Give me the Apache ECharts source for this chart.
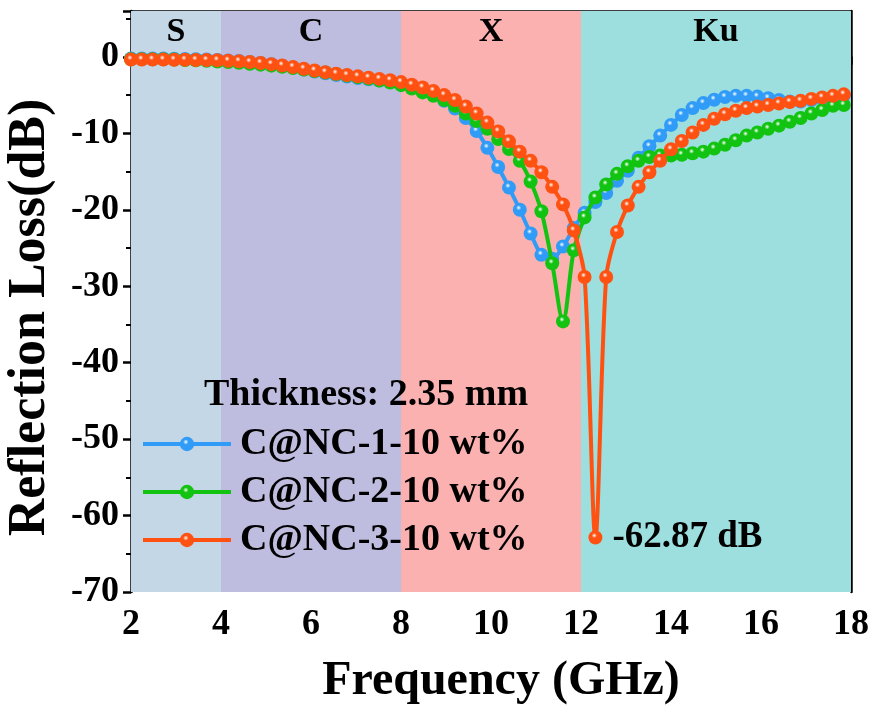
<!DOCTYPE html>
<html>
<head>
<meta charset="utf-8">
<title>Reflection Loss</title>
<script src="https://cdn.jsdelivr.net/npm/echarts@6/dist/echarts.min.js"></script>
<style>
    html, body { margin: 0; padding: 0; background: #fff; }
    #main { width: 876px; height: 710px; }
</style>
</head>
<body>
<div id="main"></div>
<script>
// 频率 (GHz)
var freq = [2.00, 2.24, 2.48, 2.72, 2.96, 3.20, 3.44, 3.68, 3.92, 4.16, 4.40, 4.64, 4.88, 5.12, 5.36, 5.60, 5.84,
    6.08, 6.32, 6.56, 6.80, 7.04, 7.28, 7.52, 7.76, 8.00, 8.24, 8.48, 8.72, 8.96, 9.20, 9.44, 9.68, 9.92, 10.16,
    10.40, 10.64, 10.88, 11.12, 11.36, 11.60, 11.84, 12.08, 12.32, 12.56, 12.80, 13.04, 13.28, 13.52, 13.76, 14.00,
    14.24, 14.48, 14.72, 14.96, 15.20, 15.44, 15.68, 15.92, 16.16, 16.40, 16.64, 16.88, 17.12, 17.36, 17.60, 17.84];

// C@NC-1-10 wt%
var rl1 = [-0.2, -0.2, -0.2, -0.22, -0.24, -0.27, -0.3, -0.34, -0.4, -0.46, -0.54, -0.66, -0.8, -0.96, -1.15, -1.38,
    -1.65, -1.92, -2.15, -2.38, -2.58, -2.76, -2.93, -3.1, -3.28, -3.5, -3.85, -4.3, -4.95, -5.75, -6.75, -8.0, -9.7,
    -11.9, -14.4, -17.1, -20.0, -23.1, -25.9, -26.4, -24.8, -22.4, -20.4, -19.0, -17.8, -16.2, -14.9, -13.2, -11.7,
    -10.3, -8.9, -7.6, -6.7, -6.05, -5.6, -5.25, -5.1, -5.1, -5.2, -5.4, -5.65, -5.85, -5.85, -5.65, -5.45, -5.25, -5.05];
// C@NC-2-10 wt%
var rl2 = [-0.3, -0.3, -0.3, -0.32, -0.35, -0.4, -0.45, -0.52, -0.6, -0.68, -0.78, -0.9, -1.02, -1.15, -1.3, -1.47,
    -1.65, -1.85, -2.05, -2.25, -2.45, -2.65, -2.85, -3.1, -3.35, -3.7, -4.15, -4.65, -5.1, -5.65, -6.4, -7.4, -8.4,
    -9.4, -10.75, -12.05, -13.6, -16.3, -20.2, -27.0, -34.6, -25.3, -21.0, -18.4, -16.7, -15.3, -14.3, -13.6, -13.1,
    -12.9, -12.9, -12.8, -12.6, -12.4, -12.0, -11.5, -10.9, -10.3, -9.9, -9.4, -9.0, -8.5, -8.0, -7.4, -6.95, -6.4, -6.3];
// C@NC-3-10 wt%
var rl3 = [-0.35, -0.35, -0.35, -0.36, -0.37, -0.38, -0.4, -0.42, -0.45, -0.5, -0.57, -0.68, -0.8, -0.95, -1.12, -1.32,
    -1.55, -1.78, -2.0, -2.2, -2.38, -2.55, -2.72, -2.88, -3.05, -3.3, -3.65, -4.0, -4.45, -5.0, -5.65, -6.5, -7.4,
    -8.6, -9.75, -11.05, -12.4, -13.6, -15.1, -17.0, -19.3, -22.7, -28.8, -62.87, -28.8, -22.9, -19.45, -17.0, -15.1,
    -13.6, -12.1, -11.0, -9.9, -8.9, -8.1, -7.5, -7.05, -6.7, -6.5, -6.3, -6.1, -5.9, -5.75, -5.5, -5.3, -5.1, -4.9];

var seriesNames = ['C@NC-1-10 wt%', 'C@NC-2-10 wt%', 'C@NC-3-10 wt%'];
var seriesColors = ['#309cf8', '#12c312', '#ff5212'];

// 波段
var bandNames = ['S', 'C', 'X', 'Ku'];
var bandStart = [2, 4, 8, 12];
var bandEnd = [4, 8, 12, 18];
var bandColors = ['#c4d7e7', '#bfbddf', '#fbb1af', '#9ddfde'];

var thicknessText = 'Thickness: 2.35 mm';

var fontFam = '"Liberation Serif", "Times New Roman", serif';

function ball(color) {
    return new echarts.graphic.RadialGradient(0.42, 0.36, 0.62, [
        {offset: 0, color: '#ffffff'},
        {offset: 0.3, color: color},
        {offset: 1, color: color}
    ]);
}

function makeSeries(idx, values) {
    var d = [];
    var minI = 0;
    for (var i = 0; i < values.length; i++) {
        if (values[i] < values[minI]) minI = i;
    }
    for (var i = 0; i < freq.length; i++) {
        var item = {value: [freq[i], values[i]]};
        if (idx == 2 && i == minI) {
            item.label = {
                show: true,
                position: 'right',
                distance: 10,
                formatter: values[i].toFixed(2) + ' dB',
                fontFamily: fontFam,
                fontWeight: 'bold',
                fontSize: 37,
                color: '#000'
            };
        }
        d.push(item);
    }
    return {
        name: seriesNames[idx],
        type: 'line',
        z: 3 + idx,
        data: d,
        smooth: 0.3,
        symbol: 'circle',
        symbolSize: 14,
        showAllSymbol: true,
        clip: false,
        lineStyle: {color: seriesColors[idx], width: 4},
        itemStyle: {color: ball(seriesColors[idx]), borderWidth: 0},
        emphasis: {disabled: true},
        animation: false
    };
}

var bandData = [];
for (var b = 0; b < bandNames.length; b++) {
    bandData.push([
        {xAxis: bandStart[b], name: bandNames[b], itemStyle: {color: bandColors[b]}},
        {xAxis: bandEnd[b]}
    ]);
}

var myChart = echarts.init(document.getElementById('main'));
var option = {
    animation: false,
    backgroundColor: '#fff',
    title: {
        text: thicknessText,
        left: 199,
        top: 371,
        textStyle: {fontFamily: fontFam, fontWeight: 'bold', fontSize: 38, color: '#000'}
    },
    legend: {
        orient: 'vertical',
        left: 136,
        top: 418,
        itemWidth: 88,
        itemHeight: 18,
        itemGap: 6,
        data: seriesNames,
        lineStyle: {width: 4},
        textStyle: {fontFamily: fontFam, fontWeight: 'bold', fontSize: 38, color: '#000', lineHeight: 42, padding: [0, 0, 0, 4]}
    },
    grid: {left: 131, right: 25, top: 11, bottom: 118, containLabel: false, outerBoundsMode: 'none'},
    xAxis: [{
        type: 'value',
        min: 2,
        max: 18,
        interval: 2,
        name: 'Frequency (GHz)',
        nameLocation: 'middle',
        nameGap: 66,
        nameTextStyle: {fontFamily: fontFam, fontWeight: 'bold', fontSize: 48, color: '#000', padding: [0, 0, 0, 20]},
        axisLine: {show: true, lineStyle: {color: '#000', width: 2.5}},
        axisTick: {show: true, inside: false, length: 8, lineStyle: {width: 2.5, color: '#000'}},
        axisLabel: {margin: 15, fontFamily: fontFam, fontWeight: 'bold', fontSize: 36, color: '#000'},
        splitLine: {show: false}
    }, {
        type: 'value',
        position: 'top',
        min: 2,
        max: 18,
        axisLine: {show: true, onZero: false, lineStyle: {color: '#000', width: 2.5}},
        axisTick: {show: false},
        axisLabel: {show: false},
        splitLine: {show: false}
    }],
    yAxis: [{
        type: 'value',
        min: -70,
        max: 6,
        interval: 10,
        name: 'Reflection Loss(dB)',
        nameLocation: 'middle',
        nameGap: 74,
        nameTextStyle: {fontFamily: fontFam, fontWeight: 'bold', fontSize: 52, color: '#000', padding: [0, 32, 0, 0]},
        axisLine: {show: true, onZero: false, lineStyle: {color: '#000', width: 2.5}},
        axisTick: {show: true, inside: false, length: 8, lineStyle: {width: 2.5, color: '#000'}},
        minorTick: {show: true, splitNumber: 2, length: 5, lineStyle: {width: 2, color: '#000'}},
        axisLabel: {margin: 12, showMaxLabel: false, fontFamily: fontFam, fontWeight: 'bold', fontSize: 36, color: '#000'},
        splitLine: {show: false}
    }, {
        type: 'value',
        position: 'right',
        min: -70,
        max: 6,
        axisLine: {show: true, onZero: false, lineStyle: {color: '#000', width: 2.5}},
        axisTick: {show: false},
        axisLabel: {show: false},
        splitLine: {show: false}
    }],
    series: [{
        name: 'bands',
        type: 'line',
        data: [],
        z: 1,
        silent: true,
        markArea: {
            silent: true,
            label: {
                show: true,
                position: 'insideTop',
                distance: 4,
                fontFamily: fontFam,
                fontWeight: 'bold',
                fontSize: 34,
                color: '#000'
            },
            data: bandData
        }
    },
        makeSeries(0, rl1),
        makeSeries(1, rl2),
        makeSeries(2, rl3)
    ]
};
myChart.setOption(option);
</script>
</body>
</html>
